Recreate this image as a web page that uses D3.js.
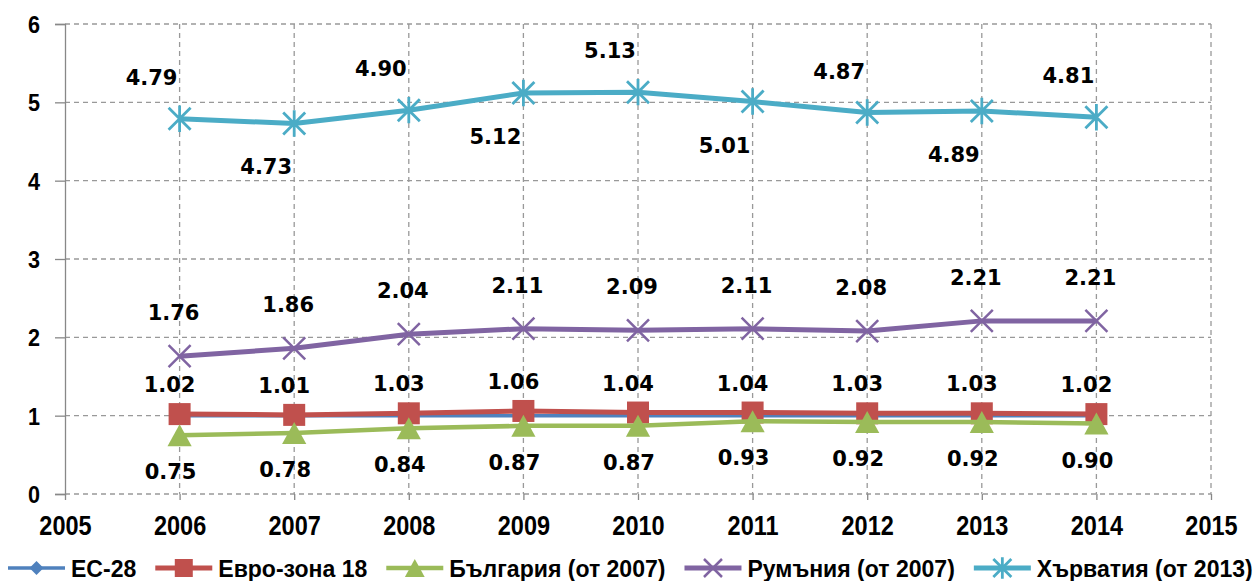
<!DOCTYPE html>
<html>
<head>
<meta charset="utf-8">
<script src="https://cdn.jsdelivr.net/npm/d3@7"></script>
<style>
body { margin: 0; background: #fff; }
svg { display: block; }
.axis text { font-family: "Liberation Sans", Arial, sans-serif; font-weight: bold; fill: #000; }
.lbl { font-family: "DejaVu Sans", Verdana, sans-serif; font-weight: bold; font-size: 21px; fill: #000; }
.leg { font-family: "Liberation Sans", Arial, sans-serif; font-weight: bold; font-size: 24px; fill: #000; }
</style>
</head>
<body>
<script>
// data
var years = [2006, 2007, 2008, 2009, 2010, 2011, 2012, 2013, 2014]
var eu28 = [1.00, 1.00, 1.00, 1.00, 1.00, 1.00, 1.00, 1.00, 1.00]
var euroZone = [1.02, 1.01, 1.03, 1.06, 1.04, 1.04, 1.03, 1.03, 1.02]
var bulgaria = [0.75, 0.78, 0.84, 0.87, 0.87, 0.93, 0.92, 0.92, 0.90]
var romania = [1.76, 1.86, 2.04, 2.11, 2.09, 2.11, 2.08, 2.21, 2.21]
var croatia = [4.79, 4.73, 4.90, 5.12, 5.13, 5.01, 4.87, 4.89, 4.81]
var seriesNames = ["ЕС-28", "Евро-зона 18", "България (от 2007)", "Румъния (от 2007)", "Хърватия (от 2013)"]
var xTicks = [2005, 2006, 2007, 2008, 2009, 2010, 2011, 2012, 2013, 2014, 2015]
var yTicks = [0, 1, 2, 3, 4, 5, 6]

var W = 1258, H = 581
var pLeft = 65, pRight = 1211, pTop = 24, pBottom = 494
var narrow = 0.84   // squeeze for the condensed Excel font
var legSqueeze = 0.96

var svg = d3.select("body").append("svg")
	.attr("width", W)
	.attr("height", H)

var x = d3.scaleLinear().domain([2005, 2015]).range([pLeft, pRight])
var y = d3.scaleLinear().domain([0, 6]).range([pBottom, pTop])

// grid
svg.append("g").selectAll("line")
	.data(yTicks)
	.enter().append("line")
	.attr("x1", pLeft).attr("x2", pRight)
	.attr("y1", function(d) { return y(d) }).attr("y2", function(d) { return y(d) })
	.attr("stroke", "#999").attr("stroke-width", 1.3).attr("stroke-dasharray", "5,4")

svg.append("g").selectAll("line")
	.data(xTicks.slice(1))
	.enter().append("line")
	.attr("x1", function(d) { return x(d) }).attr("x2", function(d) { return x(d) })
	.attr("y1", pTop).attr("y2", pBottom)
	.attr("stroke", "#999").attr("stroke-width", 1.3).attr("stroke-dasharray", "5,4")

// axes
var yAxis = svg.append("g").attr("class", "axis")
	.attr("transform", "translate(" + pLeft + ",0)")
	.call(d3.axisLeft(y).tickValues(yTicks).tickFormat(d3.format("d")).tickSize(10))
yAxis.select(".domain").attr("stroke", "#888").attr("stroke-width", 1.3)
yAxis.selectAll(".tick line").attr("stroke", "#888").attr("stroke-width", 1.3)
yAxis.selectAll("text").attr("font-size", 24)
	.attr("transform", "scale(0.9,1)")
	.attr("x", -25 / 0.9)
	.attr("dy", "0.36em")

var xAxis = svg.append("g").attr("class", "axis")
	.attr("transform", "translate(0," + pBottom + ")")
	.call(d3.axisBottom(x).tickValues(xTicks).tickFormat(d3.format("d")).tickSize(6))
xAxis.select(".domain").remove()
xAxis.selectAll(".tick line").attr("stroke", "#888").attr("stroke-width", 1.3)
xAxis.selectAll("text").attr("font-size", 28).attr("dy", null).attr("y", 41)
	.attr("transform", "scale(" + narrow + ",1)")

// marker shapes
function marker(g, kind, color, s) {
	var h = s / 2
	if (kind == "diamond") {
		g.append("path").attr("d", "M0," + (-h) + "L" + h + ",0L0," + h + "L" + (-h) + ",0Z").attr("fill", color)
	} else if (kind == "square") {
		g.append("rect").attr("x", -h).attr("y", -h).attr("width", s).attr("height", s).attr("fill", color)
	} else if (kind == "triangle") {
		g.append("path").attr("d", "M0," + (-h) + "L" + (h * 1.1) + "," + h + "L" + (-h * 1.1) + "," + h + "Z").attr("fill", color)
	} else if (kind == "x") {
		g.append("path").attr("d", "M" + (-h) + "," + (-h) + "L" + h + "," + h + "M" + (-h) + "," + h + "L" + h + "," + (-h))
			.attr("stroke", color).attr("stroke-width", 2.5).attr("fill", "none")
	} else if (kind == "star") {
		g.append("path").attr("d", "M" + (-h) + "," + (-h) + "L" + h + "," + h + "M" + (-h) + "," + h + "L" + h + "," + (-h) + "M0," + (-h * 1.2) + "L0," + (h * 1.2))
			.attr("stroke", color).attr("stroke-width", 2.8).attr("fill", "none")
	}
}

var series = [
	{ name: seriesNames[0], values: eu28, color: "#4F81BD", width: 3.5, kind: "diamond", size: 14, labels: false },
	{ name: seriesNames[1], values: euroZone, color: "#C0504D", width: 5, kind: "square", size: 22, labels: true, dx: -10, dy: -22 },
	{ name: seriesNames[2], values: bulgaria, color: "#9BBB59", width: 4.5, kind: "triangle", size: 22, labels: true, dx: -9, dy: 44 },
	{ name: seriesNames[3], values: romania, color: "#8064A2", width: 5, kind: "x", size: 22, labels: true, dx: -6, dy: -36 },
	{ name: seriesNames[4], values: croatia, color: "#4BACC6", width: 5, kind: "star", size: 22, labels: true, dx: -28, dy: -34, alt: 85 }
]

var line = d3.line()
	.x(function(d, i) { return x(years[i]) })
	.y(function(d) { return y(d) })

series.forEach(function(s) {
	var g = svg.append("g")
	g.append("path")
		.attr("d", line(s.values))
		.attr("fill", "none")
		.attr("stroke", s.color)
		.attr("stroke-width", s.width)
		.attr("stroke-linejoin", "round")
	s.values.forEach(function(v, i) {
		var m = g.append("g").attr("transform", "translate(" + x(years[i]) + "," + y(v) + ")")
		marker(m, s.kind, s.color, s.size)
	})
})

// data labels
series.forEach(function(s) {
	if (!s.labels) return
	svg.append("g").selectAll("text")
		.data(s.values)
		.enter().append("text")
		.attr("class", "lbl")
		.attr("text-anchor", "middle")
		.attr("x", function(d, i) { return x(years[i]) + s.dx })
		.attr("y", function(d, i) {
			var off = s.dy
			if (s.alt && i % 2 == 1) off += s.alt
			return y(d) + off
		})
		.text(function(d) { return d.toFixed(2) })
})

// legend
var legend = svg.append("g")
var lx = 8, ly = 568
series.forEach(function(s) {
	var item = legend.append("g").attr("transform", "translate(" + lx + "," + ly + ")")
	item.append("line").attr("x1", 0).attr("x2", 57).attr("y1", 0).attr("y2", 0)
		.attr("stroke", s.color).attr("stroke-width", s.width)
	var m = item.append("g").attr("transform", "translate(28.5,0)")
	marker(m, s.kind, s.color, s.kind == "diamond" ? 14 : 18)
	var t = item.append("text").attr("class", "leg")
		.attr("transform", "scale(" + legSqueeze + ",1)")
		.attr("x", 63 / legSqueeze).attr("y", 9).text(s.name)
	lx += 63 + t.node().getComputedTextLength() * legSqueeze + 19
})
</script>
</body>
</html>
